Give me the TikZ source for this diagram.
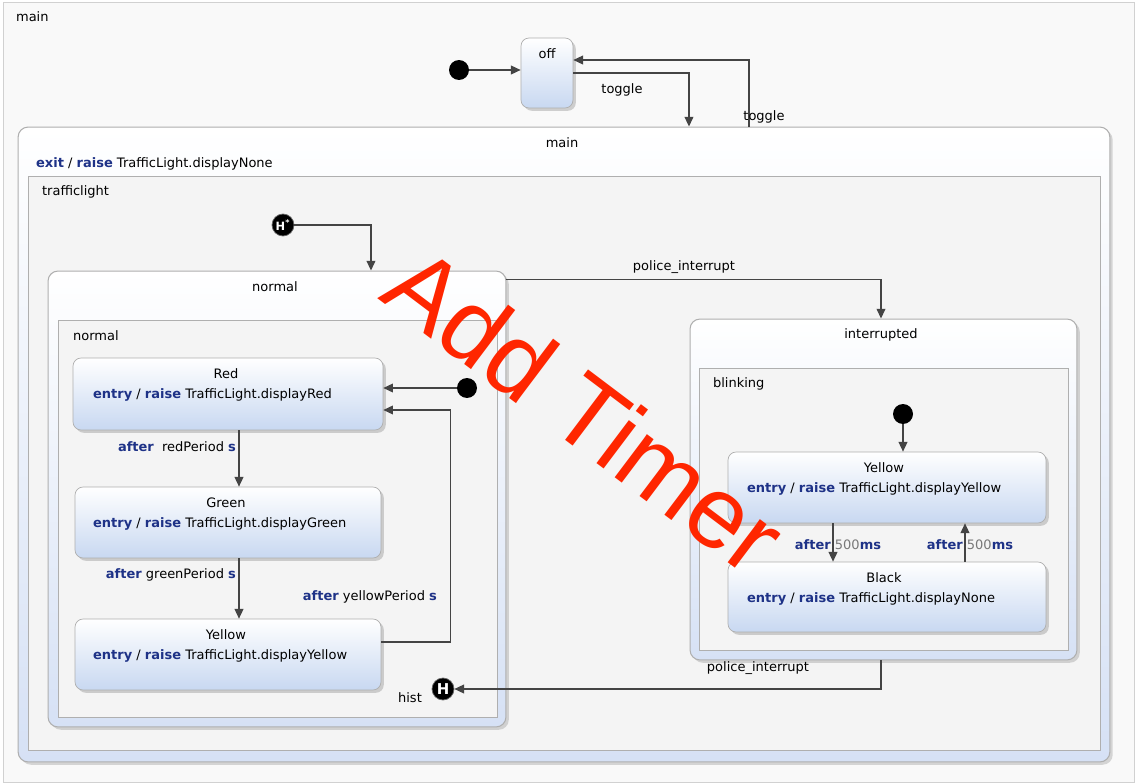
\documentclass[tikz,border=0pt]{standalone}
\usepackage{fontspec}
\setmainfont{DejaVu Sans}
\newfontfamily\timerfont{Liberation Sans}
\usetikzlibrary{arrows.meta,shadows,positioning}
\definecolor{kwblue}{RGB}{30,50,135}
\definecolor{stateblue}{RGB}{200,216,241}
\definecolor{compblue}{RGB}{214,225,245}
\definecolor{regiongray}{RGB}{244,244,244}
\definecolor{linegray}{RGB}{175,175,175}
\definecolor{arrowgray}{RGB}{68,68,68}
\definecolor{valuegray}{RGB}{120,120,120}
\definecolor{timerred}{RGB}{255,38,0}
\newcommand\kwd[1]{\textbf{\color{kwblue}#1}}

\begin{document}
\begin{tikzpicture}[x=0.02cm, y=-0.02cm,
    every node/.style={font=\fontsize{7.4}{9}\selectfont, inner sep=1pt},
    simple/.style={shape=rectangle, rounded corners=0.16cm, draw=linegray,
      top color=white, bottom color=stateblue, inner sep=0pt,
      drop shadow={shadow xshift=1.6pt, shadow yshift=-1.6pt, opacity=0.35}},
    composite/.style={shape=rectangle, rounded corners=0.2cm, draw=linegray,
      line width=0.6pt, top color=white, bottom color=compblue, inner sep=0pt,
      drop shadow={shadow xshift=1.6pt, shadow yshift=-1.6pt, opacity=0.3}},
    region/.style={shape=rectangle, draw=linegray, fill=regiongray, inner sep=0pt},
    initial/.style={shape=circle, fill=black, minimum size=0.4cm, inner sep=0pt},
    history/.style={shape=circle, fill=black, draw=black!60, minimum size=0.44cm,
      inner sep=0pt, text=white, font=\fontsize{8.5}{9}\selectfont\bfseries},
    trans/.style={draw=arrowgray, line width=0.7pt,
      -{Triangle[length=5.5pt,width=5pt]}}]
  \useasboundingbox (0,0) rectangle (1137,784);
  \node[shape=rectangle, draw=black!18, fill=black!2.5, minimum width=22.62cm,
    minimum height=15.6cm, inner sep=0pt] (canvas) at (568.5,392) {};
  \node[anchor=west] (canvas-t) at (14,17) {main};

  \node[initial] (init0) at (459,70) {};
  \node[simple, minimum width=1.04cm, minimum height=1.4cm] (off) at (547,73) {};
  \node (off-t) at (547,54) {off};

  \node[composite, minimum width=21.84cm, minimum height=12.7cm] (mainst) at (564,444.5) {};
  \node (mainst-t) at (562,143) {main};
  \node[anchor=west] (mainst-exit) at (34,164) {\kwd{exit} / \kwd{raise} TrafficLight.displayNone};
  \node[region, minimum width=21.44cm, minimum height=11.48cm] (tl) at (564,463) {};
  \node[anchor=west] (tl-t) at (40,192) {trafficlight};
  \node[history, font=\fontsize{6.5}{7}\selectfont\bfseries] (hdeep) at (283,225) {H\textsuperscript{*}};

  \node[composite, minimum width=9.16cm, minimum height=9.12cm] (normal) at (277,499) {};
  \node (normal-t) at (275,287) {normal};
  \node[region, minimum width=8.78cm, minimum height=7.94cm] (normalreg) at (277.5,518.5) {};
  \node[anchor=west] (normalreg-t) at (71,336) {normal};

  \node[simple, minimum width=6.2cm, minimum height=1.44cm] (red) at (228,394) {};
  \node (red-t) at (226,374) {Red};
  \node[anchor=west] (red-e) at (91,395) {\kwd{entry} / \kwd{raise} TrafficLight.displayRed};
  \node[simple, minimum width=6.12cm, minimum height=1.42cm] (green) at (228,522.5) {};
  \node (green-t) at (226,503) {Green};
  \node[anchor=west] (green-e) at (91,524) {\kwd{entry} / \kwd{raise} TrafficLight.displayGreen};
  \node[simple, minimum width=6.12cm, minimum height=1.42cm] (yellow) at (228,654.5) {};
  \node (yellow-t) at (226,635) {Yellow};
  \node[anchor=west] (yellow-e) at (91,656) {\kwd{entry} / \kwd{raise} TrafficLight.displayYellow};
  \node[initial] (init1) at (467,388) {};
  \node[history] (hist) at (443,689) {H};
  \node (hist-t) at (410,698) {hist};

  \node[composite, minimum width=7.74cm, minimum height=6.82cm] (interrupted) at (883.5,489.5) {};
  \node (interrupted-t) at (881,335) {interrupted};
  \node[region, minimum width=7.38cm, minimum height=5.64cm] (blinking) at (883.5,509) {};
  \node[anchor=west] (blinking-t) at (711,384) {blinking};
  \node[initial] (init2) at (903,414) {};
  \node[simple, minimum width=6.36cm, minimum height=1.42cm] (byellow) at (887,487.5) {};
  \node (byellow-t) at (884,468) {Yellow};
  \node[anchor=west] (byellow-e) at (745,489) {\kwd{entry} /\ \kwd{raise} TrafficLight.displayYellow};
  \node[simple, minimum width=6.36cm, minimum height=1.4cm] (black) at (887,597) {};
  \node (black-t) at (884,578) {Black};
  \node[anchor=west] (black-e) at (745,599) {\kwd{entry} /\ \kwd{raise} TrafficLight.displayNone};

  \draw[trans] (init0) -- (init0 -| off.west);
  \draw[trans] (off.east) -| ([xshift=2.5cm]mainst.north);
  \draw[trans] ([xshift=3.7cm]mainst.north) |- ([yshift=0.26cm]off.east);
  \draw[trans] (hdeep) -| ([xshift=1.88cm]normal.north);
  \draw[trans] (init1) -- (init1 -| red.east);
  \draw[trans] ([xshift=0.22cm]red.south) -- ([xshift=0.22cm]green.north);
  \draw[trans] ([xshift=0.22cm]green.south) -- ([xshift=0.22cm]yellow.north);
  \draw[trans] ([yshift=0.25cm]yellow.east) -- ++(69,0) |- ([yshift=-0.32cm]red.east);
  \draw[trans] ([yshift=-0.18cm]normal.north east) -| ([xshift=-0.05cm]interrupted.north);
  \draw[trans] ([xshift=-0.05cm]interrupted.south) |- (hist);
  \draw[trans] (init2) -- (init2 |- byellow.north);
  \draw[trans] ([xshift=-1.08cm]byellow.south) -- ([xshift=-1.08cm]black.north);
  \draw[trans] ([xshift=1.56cm]black.north) -- ([xshift=1.56cm]byellow.south);

  \node (lbl-toggle1) at (622,90) {toggle};
  \node (lbl-toggle2) at (764,117) {toggle};
  \node (lbl-police1) at (684,267) {police\_interrupt};
  \node (lbl-police2) at (758,668) {police\_interrupt};
  \node[anchor=east] (lbl-red) at (238,447) {\kwd{after}\ \ redPeriod \kwd{s}};
  \node[anchor=east] (lbl-green) at (238,575) {\kwd{after} greenPeriod \kwd{s}};
  \node[anchor=east] (lbl-yellow) at (439,597) {\kwd{after} yellowPeriod \kwd{s}};
  \node (lbl-blink1) at (838,545) {\kwd{after} \textcolor{valuegray}{500}\kwd{ms}};
  \node (lbl-blink2) at (970,545) {\kwd{after} \textcolor{valuegray}{500}\kwd{ms}};

  \node[anchor=base west, rotate=-37, text=timerred, inner sep=0pt,
    font=\timerfont\fontsize{58}{58}\selectfont] (timer) at (377,298) {Add Timer};
\end{tikzpicture}
\end{document}
